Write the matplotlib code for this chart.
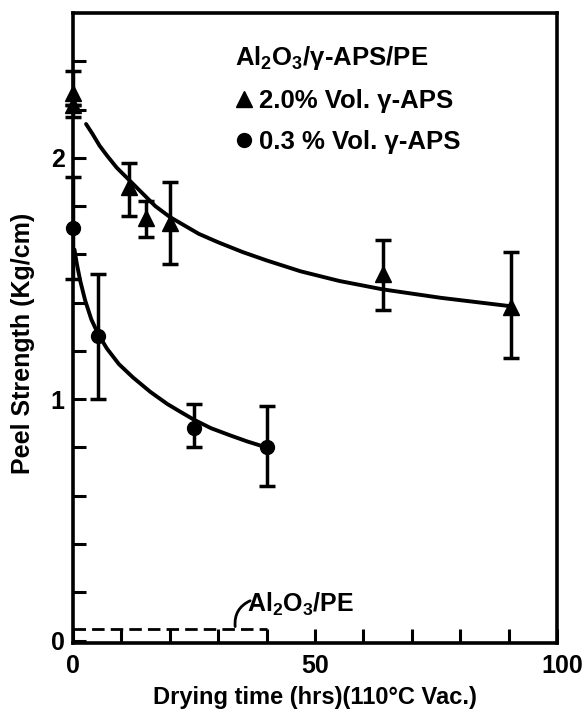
import matplotlib
matplotlib.use("Agg")
import matplotlib.pyplot as plt
import matplotlib.transforms as mtransforms
from matplotlib.lines import Line2D

plt.rcParams['font.family'] = ['Liberation Sans', 'DejaVu Sans']
plt.rcParams['font.weight'] = 'bold'
plt.rcParams['mathtext.fontset'] = 'custom'
plt.rcParams['mathtext.rm'] = 'Liberation Sans:bold'
plt.rcParams['mathtext.default'] = 'rm'

# 2.0 % Vol. gamma-APS (triangles)
tri_x = [0, 0, 11.5, 15, 20, 64, 90.5]
tri_y = [2.27, 2.22, 1.88, 1.75, 1.73, 1.52, 1.38]
tri_lo = [2.17, 2.22, 1.76, 1.67, 1.56, 1.37, 1.17]
tri_hi = [2.36, 2.22, 1.98, 1.82, 1.90, 1.66, 1.61]

# 0.3 % Vol. gamma-APS (circles)
cir_x = [0, 5.2, 25, 40]
cir_y = [1.71, 1.26, 0.88, 0.80]
cir_lo = [1.50, 1.00, 0.80, 0.64]
cir_hi = [1.92, 1.52, 0.98, 0.97]

# hand-drawn trend curves
fit_tri_x = [2.7, 4, 5.5, 7, 9, 11.5, 14, 17, 20, 23, 26, 30, 35, 40, 47, 55, 64, 76, 90.5]
fit_tri_y = [2.14, 2.10, 2.05, 2.01, 1.96, 1.91, 1.86, 1.80, 1.755, 1.72, 1.685, 1.65,
             1.61, 1.575, 1.53, 1.49, 1.455, 1.42, 1.385]
fit_cir_x = [0.3, 0.8, 1.5, 2.5, 3.8, 5.2, 7, 9.5, 12.4, 16, 19.5, 22, 25, 28.5, 32.5, 36, 40]
fit_cir_y = [1.62, 1.56, 1.49, 1.41, 1.33, 1.27, 1.21, 1.145, 1.09, 1.03, 0.98, 0.95, 0.915,
             0.88, 0.85, 0.825, 0.80]

# Al2O3/PE reference level
ref_x = [0, 40]
ref_y = [0.05, 0.05]

fig = plt.figure(figsize=(5.86, 7.11), dpi=100)
ax = fig.add_axes([73 / 586, 1 - 643 / 711, (557 - 73) / 586, (643 - 13) / 711])

err_kw = dict(fmt='none', ecolor='black', elinewidth=2.5, capsize=5.5, capthick=2.5)
e1 = ax.errorbar(tri_x, tri_y, yerr=[[y - l for y, l in zip(tri_y, tri_lo)],
                                     [h - y for y, h in zip(tri_y, tri_hi)]], **err_kw)
e2 = ax.errorbar(cir_x, cir_y, yerr=[[y - l for y, l in zip(cir_y, cir_lo)],
                                     [h - y for y, h in zip(cir_y, cir_hi)]], **err_kw)
for cont in (e1, e2):
    for art in cont.lines[1] + cont.lines[2]:
        art.set_clip_on(False)
ax.plot(tri_x, tri_y, '^', color='black', ms=11, clip_on=False)
ax.plot(cir_x, cir_y, 'o', color='black', ms=10, clip_on=False)

ax.plot(fit_tri_x, fit_tri_y, color='black', lw=2.8, solid_capstyle='round')
ax.plot(fit_cir_x, fit_cir_y, color='black', lw=2.8, solid_capstyle='round')
ax.plot(ref_x, ref_y, color='black', lw=2.0, ls=(0, (4.5, 2.2)))

# label for the reference level, with a separate curved leader
ax.text(36, 0.15, 'Al$_2$O$_3$/PE', fontsize=18, fontweight='bold',
        va='center', ha='left')
ax.annotate('', xy=(33.5, 0.058), xytext=(36.6, 0.165),
            arrowprops=dict(arrowstyle='-', color='black', lw=2.0,
                            connectionstyle='arc3,rad=0.35',
                            shrinkA=0, shrinkB=0))

ax.set_xlim(0, 100)
ax.set_ylim(-0.01, 2.6)
ax.set_xticks([0, 50, 100])
ax.set_xticks(range(10, 100, 10), minor=True)
ax.set_yticks([0, 1, 2])
ax.set_yticks([0.2, 0.4, 0.6, 0.8, 1.2, 1.4, 1.6, 1.8, 2.2, 2.4], minor=True)
ax.set_xticklabels(['0', '50', '100'])
ax.tick_params(axis='both', which='both', direction='in', width=2.2, labelsize=18)
ax.tick_params(axis='x', which='both', length=10, pad=8)
ax.tick_params(axis='y', which='both', length=9, pad=6)
for lab in ax.get_xticklabels() + ax.get_yticklabels():
    lab.set_fontweight('bold')
for sp in ax.spines.values():
    sp.set_linewidth(2.6)

# "100" sits a little right of its tick
lab100 = ax.get_xticklabels()[2]
lab100.set_transform(lab100.get_transform()
                     + mtransforms.ScaledTranslation(0.05, 0, fig.dpi_scale_trans))

ax.set_xlabel('Drying time (hrs)(110°C Vac.)', fontsize=17, fontweight='bold')
ax.xaxis.set_label_coords(0.5, -0.068)
ax.set_ylabel('Peel Strength (Kg/cm)', fontsize=18, fontweight='bold')
ax.yaxis.set_label_coords(-0.078, 0.476)

handles = [Line2D([], [], marker='^', color='black', ls='none', ms=11),
           Line2D([], [], marker='o', color='black', ls='none', ms=10)]
leg = ax.legend(handles, ['2.0% Vol. γ-APS', '0.3 % Vol. γ-APS'],
                title='Al$_2$O$_3$/γ-APS/PE', loc='upper left',
                bbox_to_anchor=(0.334, 0.951), frameon=False, borderpad=0,
                handlelength=0.7, handletextpad=0.25, labelspacing=0.68,
                borderaxespad=0,
                prop={'size': 18.5, 'weight': 'bold'},
                title_fontproperties={'size': 18.5, 'weight': 'bold'})
leg._legend_box.align = 'left'
leg._legend_box.sep = 12

fig.savefig('out.png', dpi=100)
